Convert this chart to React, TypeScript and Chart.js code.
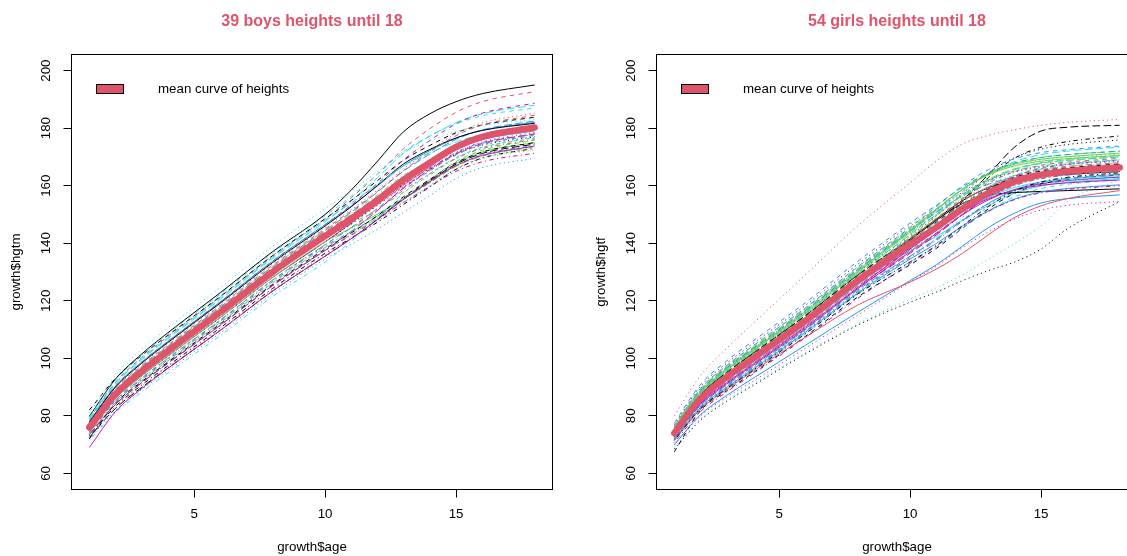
import React, { useEffect, useRef } from "react";
import { Chart, registerables } from "chart.js";

Chart.register(...registerables);

// ---- data -------------------------------------------------------------
const ages = [1, 2, 3, 4, 6, 8, 10, 11, 12, 13, 14, 15, 16, 18];
const xTicks = [5, 10, 15];
const yTicks = [60, 80, 100, 120, 140, 160, 180, 200];

const boysMean = [76, 87.5, 95.5, 102.5, 116, 130, 142.5, 148.5, 155, 162, 168, 173.5, 177, 180.2];
const girlsMean = [74, 86, 93.5, 100, 113, 127, 139.5, 145.5, 152, 157.5, 161.5, 163.8, 165, 166.3];

const boysHeights: number[][] = [
  [79.8, 92.8, 101.5, 108.9, 122.8, 137.1, 150, 158.5, 168.5, 178.8, 185, 189.2, 192, 195],
  [79, 91.7, 100.3, 107.6, 121.4, 135.7, 148.5, 155.8, 164, 172.9, 179.8, 185.5, 189.2, 192.7],
  [74, 84.7, 92.3, 99.1, 112.4, 126.2, 138.5, 143.5, 148.7, 154.3, 160, 165.7, 169.4, 172.5],
  [76.5, 88.2, 96.3, 103.4, 116.9, 131, 143.5, 148.9, 154.5, 160.6, 166.1, 171.5, 175, 178],
  [78.5, 91, 99.5, 106.8, 120.5, 134.8, 147.5, 154.7, 162.8, 171.3, 177.2, 181.9, 185, 188],
  [75, 86.1, 93.9, 100.8, 114.2, 128.1, 140.5, 147, 154.3, 162, 168.3, 173.7, 177.2, 180.5],
  [82, 93, 101, 108, 121.5, 135.7, 148.5, 154.9, 161.8, 168.9, 174, 178.4, 181.1, 183.8],
  [77.5, 89.6, 97.9, 105.1, 118.7, 132.9, 145.5, 151.7, 158.5, 165.9, 172.3, 178.1, 181.8, 185.2],
  [75.5, 86.8, 94.7, 101.7, 115.1, 129.1, 141.5, 146.6, 151.9, 157.8, 163.7, 169.5, 173.3, 176.5],
  [77, 88.9, 97.1, 104.2, 117.8, 131.9, 144.5, 150.8, 157.8, 165.1, 171, 176.1, 179.4, 182.5],
  [76.3, 87.9, 95.9, 102.9, 116.5, 130.5, 143, 148.8, 155.1, 161.7, 167.4, 172.6, 176, 179],
  [78, 90.3, 98.7, 105.9, 119.6, 133.8, 146.5, 153.3, 160.8, 169, 175.7, 181.5, 185.2, 188.7],
  [75, 86.1, 93.9, 100.8, 114.2, 128.1, 140.5, 146.7, 153.4, 160.5, 166, 170.9, 174.1, 177],
  [74.5, 85.4, 93.1, 100, 113.3, 127.2, 139.5, 145.4, 151.7, 158.5, 164.2, 169.5, 172.9, 176],
  [73.5, 84, 91.5, 98.3, 111.5, 125.3, 137.5, 143, 148.9, 155.2, 161.1, 166.7, 170.3, 173.5],
  [78, 90.3, 98.7, 105.9, 119.6, 133.8, 146.5, 152.9, 159.9, 167, 172.2, 176.5, 179.3, 182],
  [79.5, 92.4, 101.1, 108.5, 122.3, 136.7, 149.5, 156.4, 164, 171.9, 177.3, 181.5, 184.3, 187],
  [75.5, 86.8, 94.7, 101.7, 115.1, 129.1, 141.5, 147.1, 153.1, 159.7, 165.7, 171.5, 175.2, 178.5],
  [73, 83.3, 90.7, 97.4, 110.6, 124.3, 136.5, 141.8, 147.3, 153.5, 159.6, 165.7, 169.6, 173],
  [76.8, 88.6, 96.7, 103.8, 117.4, 131.4, 144, 149.9, 156.3, 163.2, 169, 174.4, 177.9, 181],
  [75, 86.1, 93.9, 100.8, 114.2, 128.1, 140.5, 145.3, 150.1, 155.6, 161.5, 167.7, 171.7, 175],
  [74.5, 85.4, 93.1, 100, 113.3, 127.2, 139.5, 145.5, 152.1, 159.1, 165.2, 170.7, 174.3, 177.5],
  [80.8, 94.2, 103.1, 110.6, 124.6, 139, 152, 158.2, 164.9, 171.5, 175.5, 178.8, 180.9, 183],
  [73.5, 84, 91.5, 98.3, 111.5, 125.3, 137.5, 142.8, 148.3, 154.2, 159.7, 165, 168.3, 171.3],
  [72.5, 82.6, 89.9, 96.6, 109.7, 123.4, 135.5, 141.6, 148.3, 155.6, 161.8, 167.5, 171.2, 174.5],
  [75.6, 86.9, 94.9, 101.8, 115.3, 129.2, 141.7, 147.4, 153.5, 160.2, 166.5, 172.4, 176.1, 179.5],
  [74, 84.7, 92.3, 99.1, 112.4, 126.2, 138.5, 143.9, 149.5, 155.8, 162.1, 168.4, 172.3, 175.8],
  [72, 81.9, 89.1, 95.7, 108.8, 122.4, 134.5, 139.6, 144.9, 150.8, 156.6, 162.5, 166.3, 169.5],
  [71.5, 81.2, 88.3, 94.9, 107.9, 121.5, 133.5, 140.7, 148.8, 157.5, 164.2, 169.8, 173.3, 176.8],
  [73.5, 84, 91.5, 98.3, 111.5, 125.3, 137.5, 144.1, 151.4, 159.3, 165.6, 171.1, 174.7, 178],
  [77.8, 90, 98.3, 105.5, 119.2, 133.3, 146, 152.7, 160.1, 167.6, 172.6, 176.6, 179.2, 181.7],
  [77.3, 89.3, 97.5, 104.6, 118.3, 132.4, 145, 151.2, 158, 165.3, 171.7, 177.4, 181.1, 184.5],
  [72.8, 83, 90.3, 97, 110.2, 123.8, 136, 141.6, 147.6, 154.2, 160.2, 166, 169.7, 173],
  [74.3, 85.1, 92.7, 99.5, 112.9, 126.7, 139, 144.1, 149.4, 155.3, 161.1, 167, 170.8, 174],
  [78.8, 91.4, 99.9, 107.2, 121, 135.2, 148, 154, 160.5, 166.9, 171.4, 175.2, 177.7, 180],
  [69, 81.5, 89.5, 96.5, 109.7, 123.4, 135.5, 141.6, 148.2, 155.3, 161.4, 167, 170.5, 173.8],
  [72, 84.4, 91.9, 98.7, 112, 125.7, 138, 143.6, 149.6, 156.2, 162.2, 168, 171.7, 175],
  [76.5, 88.2, 96.3, 103.4, 116.9, 131, 143.5, 148.6, 153.8, 159.5, 165.2, 171, 174.6, 177.8],
  [77, 88.9, 97.1, 104.2, 117.8, 131.9, 144.5, 150.5, 156.9, 163.6, 168.7, 173.3, 176.3, 179],
];

const girlsHeights: number[][] = [
  [74.3, 86.4, 93.9, 100.4, 113.5, 127.5, 141.5, 148.4, 154.8, 159.3, 161.8, 163.2, 163.9, 164.9],
  [75, 87.4, 95.1, 101.7, 114.8, 128.9, 142, 148.6, 155.4, 161, 164.9, 167.1, 168.2, 169.5],
  [75.5, 88.1, 95.9, 102.6, 115.7, 129.9, 143.5, 150, 156.2, 160.7, 163.6, 165.1, 166, 167],
  [73, 84.6, 91.9, 98.3, 111.2, 125.1, 137.5, 143.6, 150.2, 155.9, 160.1, 162.4, 163.7, 165],
  [76, 88.8, 96.7, 103.4, 116.6, 130.8, 144, 150.9, 158.1, 164.2, 168.4, 170.8, 172, 173.4],
  [72.5, 83.9, 91.1, 97.5, 110.3, 124.2, 137, 143.4, 149.9, 155.1, 158.7, 160.7, 161.8, 163],
  [67.5, 81.8, 88.7, 94.9, 107.6, 121.3, 132.5, 138.2, 145.2, 152, 157.4, 160.6, 162.2, 163.8],
  [80, 94, 103.5, 112, 129, 146, 161, 168.5, 174.5, 177.5, 179.5, 181, 182, 183],
  [74.5, 86.7, 94.3, 100.9, 113.9, 128, 141, 147.5, 154.3, 159.7, 163.5, 165.6, 166.7, 168],
  [76, 88.8, 96.7, 103.4, 116.6, 130.8, 144.5, 150.7, 156.5, 160.5, 163, 164.3, 165.1, 166],
  [73.5, 85.3, 92.7, 99.2, 112.1, 126.1, 137.5, 142.3, 148, 153.2, 157.4, 159.9, 161.2, 162.5],
  [73.3, 85, 92.3, 98.7, 111.7, 125.6, 138, 144.6, 151.9, 158.5, 163.3, 166, 167.4, 168.9],
  [75.5, 88.1, 95.9, 102.6, 115.7, 129.9, 142.5, 149.5, 157.3, 164.5, 169.8, 172.7, 174.3, 175.9],
  [72, 83.2, 90.3, 96.6, 109.4, 123.2, 135, 140.9, 147.6, 153.7, 158.4, 161.1, 162.5, 164],
  [75.3, 87.8, 95.5, 102.1, 115.3, 129.4, 143, 150, 156.9, 162.3, 165.9, 167.8, 168.8, 170],
  [70, 80.4, 87.1, 93, 104.5, 116, 127, 132.5, 139, 145.5, 150.5, 154, 155.5, 156.8],
  [71.5, 82.5, 89.5, 95.8, 108.5, 122.3, 133.5, 138.8, 145.2, 151.3, 156.2, 159, 160.5, 162],
  [70, 80, 86.5, 92, 103.5, 115, 126.5, 132, 138.5, 144, 148.5, 151.5, 153.2, 154.5],
  [74.5, 86.7, 94.3, 100.9, 113.9, 128, 139.5, 146.2, 154.5, 162.9, 169.6, 173.4, 175.3, 177.3],
  [73, 84.6, 91.9, 98.3, 111.2, 125.1, 137, 143.1, 150.1, 156.6, 161.6, 164.5, 166, 167.5],
  [75.5, 88.1, 95.9, 102.6, 115.7, 129.9, 144, 151.5, 158.7, 164.1, 167.5, 169.2, 170.1, 171.3],
  [76.5, 89.5, 97.5, 104.3, 117.5, 131.8, 145.5, 152.7, 159.9, 165.6, 169.4, 171.5, 172.5, 173.8],
  [69, 79, 85.5, 91, 102, 112, 120.5, 124.5, 129, 134.5, 140, 146, 154.5, 162],
  [74.3, 86.4, 93.9, 100.4, 113.5, 127.5, 139.5, 145.1, 151.6, 157.3, 161.7, 164.3, 165.6, 167],
  [75, 87.4, 95.1, 101.7, 114.8, 128.9, 141.5, 148, 155, 164, 173.5, 179, 180.3, 181],
  [71.5, 82.3, 89.2, 95.5, 107.3, 118.5, 126.5, 131, 136.5, 143, 149, 153, 155.5, 158.3],
  [75, 87.4, 95.1, 101.7, 114.8, 128.9, 142, 148.7, 155.8, 161.6, 165.7, 168, 169.2, 170.5],
  [76.5, 89.5, 97.5, 104.3, 117.5, 131.8, 145, 151, 157, 161.6, 164.7, 166.5, 167.4, 168.5],
  [73.5, 85.3, 92.7, 99.2, 112.1, 126.1, 138.5, 144.5, 151.1, 156.6, 160.7, 163, 164.2, 165.5],
  [72.5, 83.9, 91.1, 97.5, 110.3, 124.2, 136.5, 142.9, 149.9, 156, 160.5, 163.1, 164.4, 165.8],
  [73.5, 85.3, 92.7, 99.2, 112.1, 126.1, 141, 148, 153.8, 156.7, 157.6, 158, 158.3, 158.9],
  [74.8, 87.1, 94.7, 101.3, 114.4, 128.4, 141, 147, 153.6, 159.1, 163.2, 165.5, 166.7, 168],
  [77, 90.2, 98.3, 105.1, 118.4, 132.7, 146.5, 153.1, 159.5, 164.3, 167.4, 169, 169.9, 171],
  [72, 83.2, 90.3, 96.6, 109.4, 123.2, 135.5, 141.6, 148.2, 153.9, 158.1, 160.4, 161.7, 163],
  [75.8, 88.5, 96.3, 103, 116.2, 130.3, 143.5, 149.9, 156.6, 161.9, 165.6, 167.7, 168.8, 170],
  [72.8, 84.3, 91.5, 97.9, 110.8, 124.6, 138, 144.5, 150.9, 155.5, 158.5, 160.1, 161, 162],
  [75, 87.4, 95.1, 101.7, 114.8, 128.9, 141.5, 147.4, 153.7, 159, 162.9, 165.1, 166.2, 167.5],
  [76, 88.8, 96.7, 103.4, 116.6, 130.8, 144, 149.8, 155.5, 159.7, 162.5, 164.1, 165, 166],
  [74.5, 86.7, 94.3, 100.9, 113.9, 128, 142, 149.5, 156.6, 161.9, 165.2, 166.9, 167.9, 169],
  [72.3, 83.6, 90.7, 97, 109.9, 123.7, 135.5, 141.3, 147.9, 153.9, 158.5, 161.2, 162.6, 164],
  [73.3, 85, 92.3, 98.7, 111.7, 125.6, 138.5, 144.7, 151, 156, 159.4, 161.3, 162.3, 163.5],
  [73.8, 85.7, 93.1, 99.6, 112.6, 126.5, 139, 145.2, 151.9, 157.7, 162, 164.4, 165.6, 167],
  [68.5, 78.5, 85, 90.5, 101.5, 111.5, 119.5, 123, 127, 130.5, 133.5, 138, 145, 154.5],
  [74.3, 86.4, 93.9, 100.4, 113.5, 127.5, 139.5, 144.8, 150.9, 156.1, 160.1, 162.5, 163.7, 165],
  [76.3, 89.2, 97.1, 103.8, 117.1, 131.3, 145, 152, 158.9, 164.3, 167.9, 169.8, 170.8, 172],
  [71.8, 82.9, 89.9, 96.2, 109, 122.7, 134.5, 139.9, 146, 151.3, 155.4, 157.8, 159, 160.3],
  [75.3, 87.8, 95.5, 102.1, 115.3, 129.4, 141.5, 147.1, 153.6, 159.3, 163.7, 166.3, 167.6, 169],
  [77, 90.2, 98.3, 105.1, 118.4, 132.7, 146, 151.8, 157.7, 162, 164.9, 166.6, 167.5, 168.5],
  [71.5, 82.5, 89.5, 95.8, 108.5, 122.3, 133.5, 139.2, 146.1, 152.8, 158.2, 161.3, 162.9, 164.5],
  [74.5, 86.7, 94.3, 100.9, 113.9, 128, 141.5, 148.2, 154.7, 159.6, 162.8, 164.5, 165.4, 166.5],
  [75.8, 88.5, 96.3, 103, 116.2, 130.3, 144.5, 151.8, 158.7, 163.8, 166.9, 168.5, 169.4, 170.5],
  [77.5, 90.9, 99.1, 106, 119.3, 133.7, 147, 153.2, 159.5, 164.5, 167.9, 169.8, 170.8, 172],
  [72.5, 83.9, 91.1, 97.5, 110.3, 124.2, 135.5, 141.6, 149, 156.3, 162.2, 165.5, 167.3, 169],
  [70.8, 81.5, 88.3, 94.5, 107.2, 120.8, 133, 139, 145.6, 151.1, 155.2, 157.5, 158.7, 160],
];

// ---- style ------------------------------------------------------------
const palette = ["#000000", "#DF536B", "#61D04F", "#2297E6", "#28E2E5", "#CD0BBC"];
const dashes: number[][] = [[], [4.4, 4.4], [1.1, 3.3], [1.1, 3.3, 4.4, 3.3], [7.7, 3.3]];
const meanColor = "#DF536B";
const FONT = '"Liberation Sans", Arial, Helvetica, sans-serif';

const W = 585;
const H = 556;

function panelPlugin(title: string, yTitle: string) {
  return {
    id: "rpanel",
    afterDraw(chart: any) {
      const { ctx, chartArea: a, scales } = chart;
      ctx.save();
      // box
      ctx.strokeStyle = "#000";
      ctx.lineWidth = 1;
      ctx.setLineDash([]);
      ctx.strokeRect(a.left, a.top, a.right - a.left, a.bottom - a.top);

      ctx.fillStyle = "#000";
      ctx.font = `13.33px ${FONT}`;
      ctx.textAlign = "center";
      ctx.textBaseline = "middle";
      // x tick labels
      xTicks.forEach((v) => {
        ctx.fillText(String(v), scales.x.getPixelForValue(v), 514);
      });
      // y tick labels (rotated, R style)
      yTicks.forEach((v) => {
        ctx.save();
        ctx.translate(46.5, scales.y.getPixelForValue(v));
        ctx.rotate(-Math.PI / 2);
        ctx.fillText(String(v), 0, 0);
        ctx.restore();
      });
      // axis titles
      ctx.fillText("growth$age", (a.left + a.right) / 2, 547.5);
      ctx.save();
      ctx.translate(16.5, (a.top + a.bottom) / 2);
      ctx.rotate(-Math.PI / 2);
      ctx.fillText(yTitle, 0, 0);
      ctx.restore();

      // main title
      ctx.font = `bold 16px ${FONT}`;
      ctx.fillStyle = meanColor;
      ctx.fillText(title, (a.left + a.right) / 2, 21.5);

      // legend
      ctx.fillStyle = meanColor;
      ctx.fillRect(96.5, 84.5, 27, 9);
      ctx.strokeStyle = "#000";
      ctx.strokeRect(96.5, 84.5, 27, 9);
      ctx.fillStyle = "#000";
      ctx.font = `13.33px ${FONT}`;
      ctx.textAlign = "left";
      ctx.fillText("mean curve of heights", 158, 89.5);
      ctx.restore();
    },
  };
}

function buildChart(canvas: HTMLCanvasElement, series: number[][], mean: number[], title: string, yTitle: string) {
  const n = series.length;
  const datasets: any[] = series.map((vals, i) => ({
    data: vals.map((v, j) => ({ x: ages[j], y: v })),
    borderColor: palette[i % 6],
    borderWidth: 1,
    borderDash: dashes[i % 5],
    borderJoinStyle: "round",
    pointRadius: 0,
    fill: false,
    cubicInterpolationMode: "monotone",
    order: n - i + 1,
  }));
  datasets.push({
    data: mean.map((v, j) => ({ x: ages[j], y: v })),
    borderColor: meanColor,
    borderWidth: 6.5,
    borderCapStyle: "round",
    borderJoinStyle: "round",
    pointRadius: 0,
    fill: false,
    cubicInterpolationMode: "monotone",
    order: 0,
  });

  return new Chart(canvas, {
    type: "line",
    data: { datasets },
    options: {
      animation: false,
      responsive: false,
      maintainAspectRatio: false,
      devicePixelRatio: 1,
      events: [],
      layout: { padding: { left: 0, top: 54.5, right: 32.5, bottom: 0 } },
      plugins: {
        legend: { display: false },
        tooltip: { enabled: false },
        title: { display: false },
      },
      scales: {
        x: {
          type: "linear",
          min: 0.32,
          max: 18.68,
          afterBuildTicks: (s: any) => {
            s.ticks = xTicks.map((v) => ({ value: v }));
          },
          afterFit: (s: any) => {
            s.height = 66.5;
          },
          grid: { display: true, drawOnChartArea: false, drawTicks: true, tickLength: 8, color: "#000", lineWidth: 1 },
          border: { display: true, color: "#000", width: 1 },
          ticks: { display: false },
        },
        y: {
          type: "linear",
          min: 54.4,
          max: 205.6,
          afterBuildTicks: (s: any) => {
            s.ticks = yTicks.map((v) => ({ value: v }));
          },
          afterFit: (s: any) => {
            s.width = 71.5;
          },
          grid: { display: true, drawOnChartArea: false, drawTicks: true, tickLength: 8, color: "#000", lineWidth: 1 },
          border: { display: true, color: "#000", width: 1 },
          ticks: { display: false },
        },
      },
    } as any,
    plugins: [panelPlugin(title, yTitle)],
  });
}

export default function App() {
  const leftRef = useRef<HTMLCanvasElement>(null);
  const rightRef = useRef<HTMLCanvasElement>(null);

  useEffect(() => {
    const c1 = buildChart(leftRef.current!, boysHeights, boysMean, "39 boys heights until 18", "growth$hgtm");
    const c2 = buildChart(rightRef.current!, girlsHeights, girlsMean, "54 girls heights until 18", "growth$hgtf");
    return () => {
      c1.destroy();
      c2.destroy();
    };
  }, []);

  return (
    <div
      style={{
        position: "fixed",
        left: 0,
        top: 0,
        width: 1127,
        height: 556,
        overflow: "hidden",
        background: "#fff",
      }}
    >
      <canvas ref={leftRef} width={W} height={H} style={{ position: "absolute", left: 0, top: 0, width: W, height: H }} />
      <canvas ref={rightRef} width={W} height={H} style={{ position: "absolute", left: 585, top: 0, width: W, height: H }} />
    </div>
  );
}
